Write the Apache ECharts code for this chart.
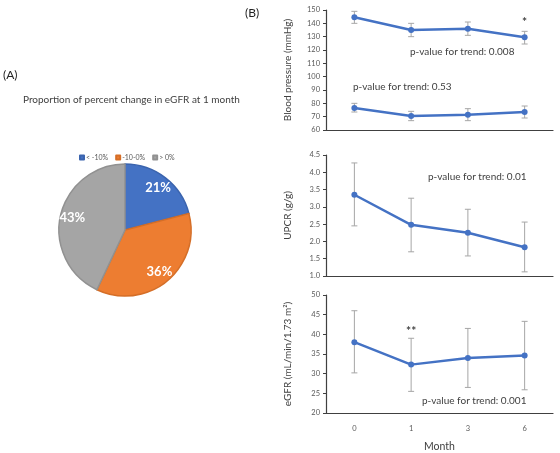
<!DOCTYPE html>
<html>
<head>
<meta charset="utf-8">
<script src="https://cdn.jsdelivr.net/npm/echarts@6/dist/echarts.min.js"></script>
<style>
	html, body { margin: 0; padding: 0; background: #fff; }
	#chart { width: 560px; height: 453px; }
</style>
</head>
<body>
<div id="chart"></div>
<script>
// (A) pie
let pieNames = ["< -10%", "-10-0%", "> 0%"];
let pieValues = [21, 36, 43];
let pieColors = ["#4472C4", "#ED7D31", "#A5A5A5"];
let pieBorders = ["#3B64AE", "#D56E27", "#919191"];

// (B) x categories
let months = ["0", "1", "3", "6"];

// blood pressure, systolic and diastolic
let sbpMean = [144.5, 135, 136, 129.5];
let sbpLow = [140, 130, 131, 124.5];
let sbpHigh = [149, 140, 141, 134];
let dbpMean = [76.5, 70.5, 71.5, 73.5];
let dbpLow = [73.5, 67, 67, 69];
let dbpHigh = [80, 74, 76, 78];

// UPCR
let upcrMean = [3.35, 2.48, 2.25, 1.83];
let upcrLow = [2.45, 1.7, 1.58, 1.12];
let upcrHigh = [4.27, 3.25, 2.93, 2.56];

// eGFR
let egfrMean = [38, 32.3, 34, 34.6];
let egfrLow = [30.2, 25.5, 26.5, 25.9];
let egfrHigh = [46, 39, 41.5, 43.3];

let font = "Lato";
let blue = "#4472C4";
let errGray = "#A6A6A6";
let axisDark = "#404040";
let labelGray = "#595959";

let chart = echarts.init(document.getElementById("chart"), null, {width: 560, height: 453});

function errData(low, high) {
	return low.map((l, i) => [i, l, high[i]]);
}

function renderErr(params, api) {
	let lo = api.coord([api.value(0), api.value(1)]);
	let hi = api.coord([api.value(0), api.value(2)]);
	let w = 3;
	let style = {stroke: errGray, lineWidth: 1};
	return {
		type: "group",
		children: [
			{type: "line", shape: {x1: lo[0], y1: lo[1], x2: hi[0], y2: hi[1]}, style},
			{type: "line", shape: {x1: lo[0] - w, y1: lo[1], x2: lo[0] + w, y2: lo[1]}, style},
			{type: "line", shape: {x1: hi[0] - w, y1: hi[1], x2: hi[0] + w, y2: hi[1]}, style}
		]
	};
}

function errSeries(idx, low, high) {
	return {
		type: "custom", xAxisIndex: idx, yAxisIndex: idx, z: 1,
		renderItem: renderErr, data: errData(low, high), silent: true
	};
}

function lineSeries(idx, data, marks) {
	let s = {
		type: "line", xAxisIndex: idx, yAxisIndex: idx, z: 3, data,
		symbol: "circle", symbolSize: 6, animation: false,
		lineStyle: {color: blue, width: 2.5}, itemStyle: {color: blue}
	};
	if (marks) s.markPoint = {
		symbolSize: 0,
		label: {show: true, color: axisDark, fontSize: 12, fontWeight: "bold", fontFamily: font, formatter: p => p.name},
		data: marks
	};
	return s;
}

let grids = [
	{left: 326, top: 10, width: 227, height: 120},
	{left: 326, top: 155, width: 227, height: 121},
	{left: 326, top: 295, width: 227, height: 122}
];

function xAxis(idx, last) {
	return {
		type: "category", gridIndex: idx, data: months,
		axisLine: {lineStyle: {color: axisDark, width: 1.2}},
		axisTick: {show: false},
		axisLabel: {show: last, color: labelGray, fontSize: 7.5, fontFamily: font, margin: 12},
		name: last ? "Month" : "", nameLocation: "middle", nameGap: 28,
		nameTextStyle: {color: axisDark, fontSize: 10.5, fontFamily: font}
	};
}

function yAxis(idx, name, min, max, interval, digits) {
	return {
		type: "value", gridIndex: idx, min, max, interval,
		splitLine: {show: false},
		axisLine: {show: true, lineStyle: {color: axisDark, width: 1.2}},
		axisTick: {show: true, length: 3, lineStyle: {color: axisDark}},
		axisLabel: {color: labelGray, fontSize: 7.5, fontFamily: font, margin: 6,
			formatter: v => v.toFixed(digits)},
		name, nameLocation: "middle", nameGap: 33,
		nameTextStyle: {color: axisDark, fontSize: 10, fontFamily: font}
	};
}

function pText(left, top, text) {
	return {type: "text", left, top, style: {text, fill: axisDark, font: "10px " + font}};
}

let pieData = pieNames.map((n, i) => ({
	name: n, value: pieValues[i],
	itemStyle: {color: pieColors[i], borderColor: pieBorders[i], borderWidth: 1.5}
}));

chart.setOption({
	animation: false,
	title: {
		text: "Proportion of percent change in eGFR at 1 month",
		left: 18, top: 90,
		textStyle: {color: axisDark, fontSize: 10, fontWeight: "normal", fontFamily: font}
	},
	legend: {
		data: pieNames, left: 74, top: 149, itemWidth: 4, itemHeight: 4, itemGap: 7,
		icon: "rect", textStyle: {color: labelGray, fontSize: 7, fontFamily: font, padding: [0, 0, 0, -3]}
	},
	graphic: [
		{type: "text", left: 3, top: 69, style: {text: "(A)", fill: "#222", font: "12px " + font}},
		{type: "text", left: 245, top: 7, style: {text: "(B)", fill: "#222", font: "12px " + font}},
		pText(410, 47, "p-value for trend: 0.008"),
		pText(353, 82, "p-value for trend: 0.53"),
		pText(428, 172, "p-value for trend: 0.01"),
		pText(422, 396, "p-value for trend: 0.001")
	],
	grid: grids,
	xAxis: [xAxis(0, false), xAxis(1, false), xAxis(2, true)],
	yAxis: [
		yAxis(0, "Blood pressure (mmHg)", 60, 150, 10, 0),
		yAxis(1, "UPCR (g/g)", 1, 4.5, 0.5, 1),
		yAxis(2, "eGFR (mL/min/1.73 m²)", 20, 50, 5, 0)
	],
	series: [
		{
			type: "pie", center: [125, 230], radius: [0, 66], startAngle: 90,
			data: pieData, label: {show: false}, labelLine: {show: false}, silent: true
		},
		{
			type: "pie", center: [125, 230], radius: [36, 66], startAngle: 90, silent: true,
			data: pieNames.map((n, i) => ({name: n, value: pieValues[i]})),
			itemStyle: {color: "rgba(0,0,0,0)", borderWidth: 0},
			label: {show: true, position: "inside", formatter: "{c}%", color: "#fff",
				fontSize: 13, fontWeight: "bold", fontFamily: font},
			labelLine: {show: false}
		},
		errSeries(0, sbpLow, sbpHigh),
		errSeries(0, dbpLow, dbpHigh),
		lineSeries(0, sbpMean, [{name: "*", coord: ["6", 141]}]),
		lineSeries(0, dbpMean),
		errSeries(1, upcrLow, upcrHigh),
		lineSeries(1, upcrMean),
		errSeries(2, egfrLow, egfrHigh),
		lineSeries(2, egfrMean, [{name: "**", coord: ["1", 40.8]}])
	]
});
</script>
</body>
</html>
